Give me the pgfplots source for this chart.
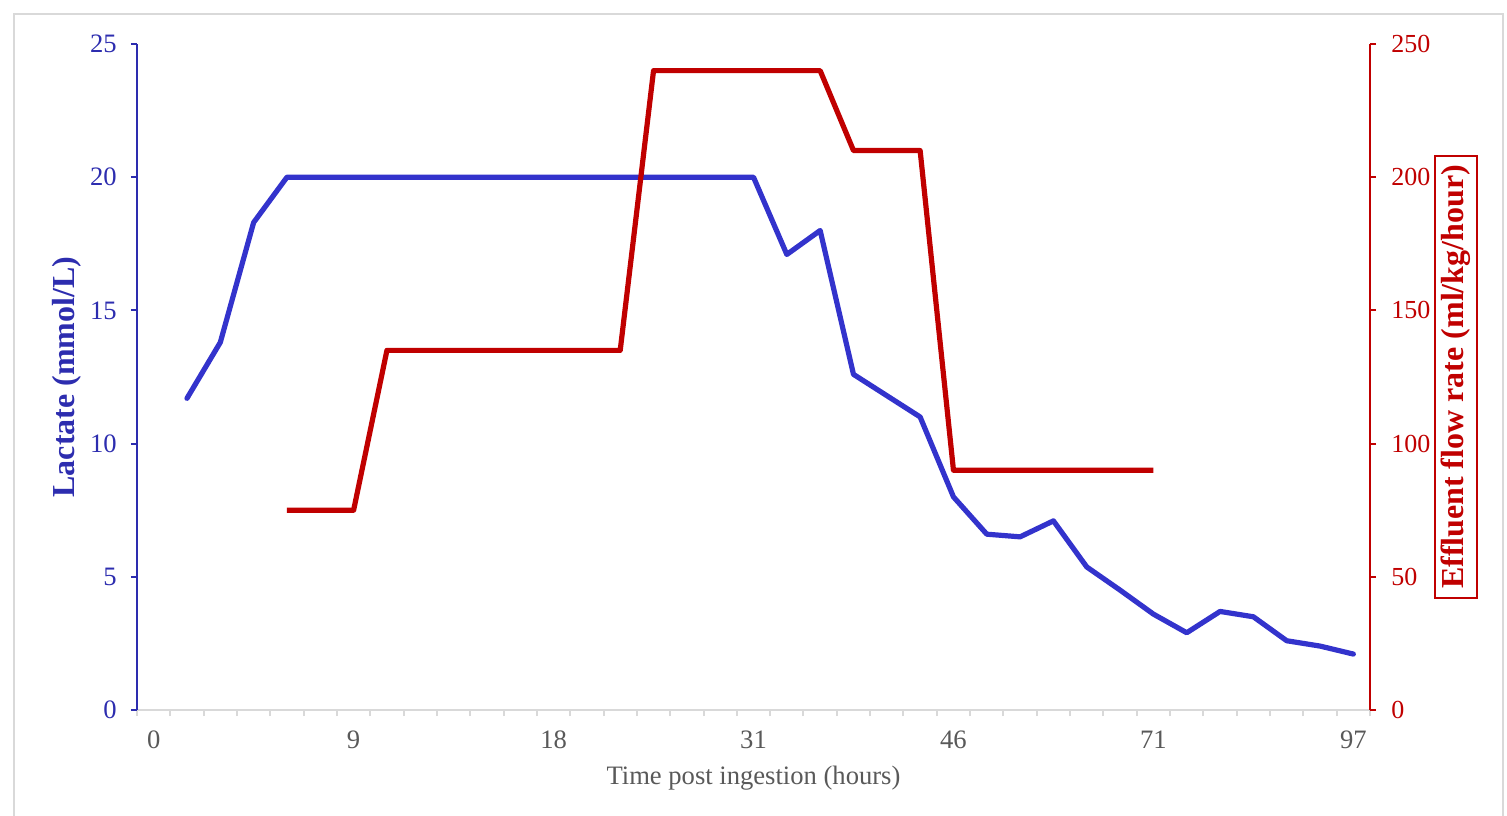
\documentclass[border=0pt]{standalone}
\usepackage{fontspec}
\setmainfont{Liberation Serif}
\usepackage{pgfplots}
\pgfplotsset{compat=1.18}
\definecolor{lblue}{RGB}{51,51,204}
\definecolor{ablue}{RGB}{45,45,175}
\definecolor{dred}{RGB}{192,0,0}
\definecolor{tgrey}{RGB}{89,89,89}
\definecolor{bgrey}{RGB}{217,217,217}
\begin{document}
\fontsize{13.3}{16}\selectfont
\begin{tikzpicture}[font=\fontsize{13.3}{16}\selectfont]
\useasboundingbox (0,0) rectangle (753.5pt,407.5pt);
\draw[bgrey, line width=1.2pt] (7pt,400.5pt) rectangle (751.5pt,-10pt);
\pgfplotsset{
  every axis/.append style={
    at={(68.5pt,52.5pt)}, anchor=south west,
    scale only axis, width=616.5pt, height=333pt,
    xmin=-0.5, xmax=36.5,
    /pgf/number format/assume math mode=true,
    tick align=outside,
    major tick length=3pt,
    minor tick length=3pt,
    clip=false,
  }
}
\begin{axis}[
  axis y line*=left, axis x line*=bottom,
  ymin=0, ymax=25, ytick={0,5,...,25},
  xtick={0,6,12,18,24,30,36},
  xticklabels={0,9,18,31,46,71,97},
  minor xtick={-0.5,0.5,...,36.5},
  major x tick style={draw=none},
  x axis line style={bgrey, line width=1pt, -},
  every outer x axis line/.append style={-},
  every outer y axis line/.append style={-},
  minor x tick style={bgrey, line width=1pt},
  y axis line style={ablue, line width=1pt, -},
  ytick style={ablue, line width=1pt},
  yticklabel style={ablue, xshift=-2.5pt},
  xticklabel style={tgrey, yshift=-3pt},
  xlabel={Time post ingestion (hours)},
  ylabel={Lactate (mmol/L)},
  every axis x label/.style={at={(axis description cs:0.5,-0.1021)}, anchor=center, tgrey},
  every axis y label/.style={at={(axis description cs:-0.0568,0.5)}, anchor=center, rotate=90, ablue, font=\fontsize{16}{19}\selectfont\bfseries},
]
\addplot[lblue, line width=2.6pt, line join=round, line cap=round] coordinates {
(1,11.7) (2,13.8) (3,18.3) (4,20) (5,20) (6,20) (7,20) (8,20) (9,20) (10,20)
(11,20) (12,20) (13,20) (14,20) (15,20) (16,20) (17,20) (18,20)
(19,17.1) (20,18.0) (21,12.6) (22,11.8) (23,11.0) (24,8.0) (25,6.6) (26,6.5)
(27,7.1) (28,5.37) (29,4.5) (30,3.6) (31,2.9) (32,3.7) (33,3.5) (34,2.6)
(35,2.4) (36,2.1)
};
\end{axis}
\begin{axis}[
  axis y line*=right, axis x line=none,
  every outer y axis line/.append style={-},
  ymin=0, ymax=250, ytick={0,50,...,250},
  y axis line style={dred, line width=1pt, -},
  ytick style={dred, line width=1pt},
  yticklabel style={dred, xshift=3pt, font=\fontsize{13}{16}\selectfont},
  ylabel={Effluent flow rate (ml/kg/hour)},
  every axis y label/.style={at={(axis description cs:1.0697,0.5)}, anchor=center, rotate=90, dred, draw=dred, line width=0.75pt, inner xsep=4.5pt, inner ysep=3pt, font=\fontsize{16}{19}\selectfont\bfseries},
]
\addplot[dred, line width=2.6pt, line join=round] coordinates {
(4,75) (5,75) (6,75) (7,135) (8,135) (9,135) (10,135) (11,135) (12,135)
(13,135) (14,135) (15,240) (16,240) (17,240) (18,240) (19,240) (20,240)
(21,210) (22,210) (23,210) (24,90) (25,90) (26,90) (27,90) (28,90) (29,90) (30,90)
};
\end{axis}
\end{tikzpicture}
\end{document}
